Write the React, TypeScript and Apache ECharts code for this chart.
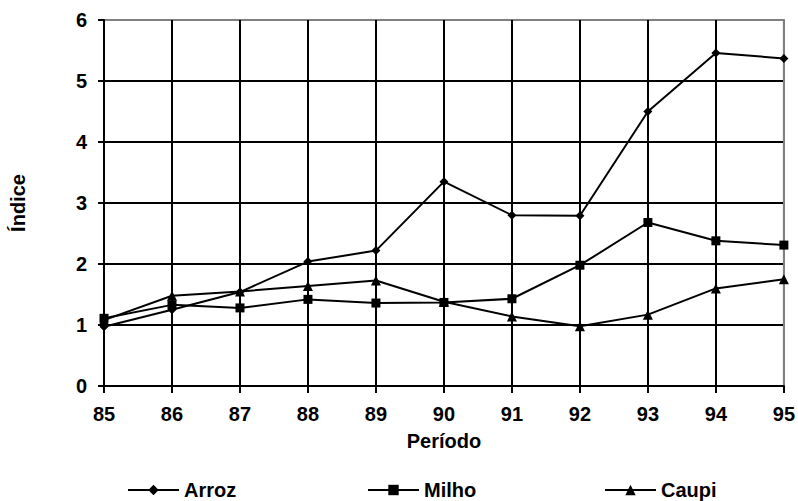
import React, { useEffect, useRef } from "react";
import * as echarts from "echarts";

const categories = ["85", "86", "87", "88", "89", "90", "91", "92", "93", "94", "95"];
const arroz = [0.97, 1.25, 1.54, 2.04, 2.22, 3.35, 2.8, 2.79, 4.5, 5.46, 5.37];
const milho = [1.11, 1.33, 1.28, 1.42, 1.36, 1.37, 1.43, 1.98, 2.68, 2.38, 2.31];
const caupi = [1.08, 1.48, 1.55, 1.64, 1.73, 1.38, 1.14, 0.98, 1.17, 1.6, 1.75];

const FONT = "'Liberation Sans', Arial, sans-serif";

export default function App() {
  const ref = useRef<HTMLDivElement>(null);
  useEffect(() => {
    if (!ref.current) return;
    const chart = echarts.init(ref.current, null, { renderer: "svg" });
    const textStyle = { fontFamily: FONT, fontWeight: "bold" as const, fontSize: 20, color: "#000" };
    const legendBase = {
      top: 480,
      padding: 0,
      itemWidth: 51,
      itemHeight: 13,
      itemGap: 0,
      textStyle: { ...textStyle },
    };
    const yColors = ["#000", "#000", "#000", "#000", "#000", "#000", "#808080"];
    const xColors = ["#000", "#000", "#000", "#000", "#000", "#000", "#000", "#000", "#000", "#000", "#808080"];
    chart.setOption({
      animation: false,
      backgroundColor: "#fff",
      grid: {
        left: 104,
        right: 14,
        top: 20,
        bottom: 115,
        show: true,
        borderColor: "#808080",
        borderWidth: 2,
      },
      legend: [
        { ...legendBase, left: 127, data: ["Arroz"] },
        { ...legendBase, left: 367, data: ["Milho"] },
        { ...legendBase, left: 604, data: ["Caupi"] },
      ],
      xAxis: {
        type: "category",
        data: categories,
        boundaryGap: false,
        name: "Período",
        nameLocation: "middle",
        nameGap: 45,
        nameTextStyle: textStyle,
        axisLine: { show: true, lineStyle: { color: "#000", width: 2 } },
        axisTick: { show: true, length: 7, lineStyle: { color: "#000", width: 2 } },
        axisLabel: { ...textStyle, margin: 18 },
        splitLine: { show: true, lineStyle: { color: xColors, width: 2 } },
      },
      yAxis: {
        type: "value",
        min: 0,
        max: 6,
        interval: 1,
        name: "Índice",
        nameLocation: "middle",
        nameGap: 76,
        nameRotate: 90,
        nameTextStyle: textStyle,
        axisLine: { show: true, lineStyle: { color: "#000", width: 2 } },
        axisTick: { show: true, length: 6, lineStyle: { color: "#000", width: 2 } },
        axisLabel: { ...textStyle, margin: 17 },
        splitLine: { show: true, lineStyle: { color: yColors, width: 2 } },
      },
      series: [
        {
          name: "Arroz",
          type: "line",
          data: arroz,
          symbol: "diamond",
          symbolSize: 9,
          itemStyle: { color: "#000" },
          lineStyle: { color: "#000", width: 2 },
          z: 5,
        },
        {
          name: "Milho",
          type: "line",
          data: milho,
          symbol: "rect",
          symbolSize: 9,
          itemStyle: { color: "#000" },
          lineStyle: { color: "#000", width: 2 },
          z: 5,
        },
        {
          name: "Caupi",
          type: "line",
          data: caupi,
          symbol: "triangle",
          symbolSize: 10,
          itemStyle: { color: "#000" },
          lineStyle: { color: "#000", width: 2 },
          z: 5,
        },
      ],
    });
    return () => chart.dispose();
  }, []);
  return <div ref={ref} style={{ width: 798, height: 501, position: "absolute", left: 0, top: 0 }} />;
}
